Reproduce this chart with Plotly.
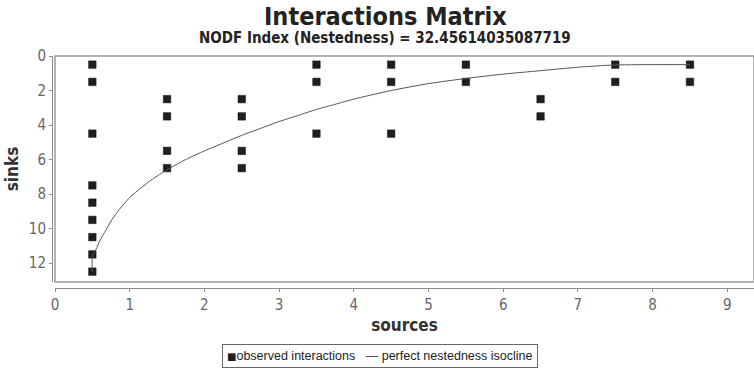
import plotly.graph_objects as go

# Observed interactions: (source column, sink row) cell centres
obs_sources = [0.5, 0.5, 0.5, 0.5, 0.5, 0.5, 0.5, 0.5, 0.5,
               1.5, 1.5, 1.5, 1.5,
               2.5, 2.5, 2.5, 2.5,
               3.5, 3.5, 3.5,
               4.5, 4.5, 4.5,
               5.5, 5.5,
               6.5, 6.5,
               7.5, 7.5,
               8.5, 8.5]
obs_sinks = [0.5, 1.5, 4.5, 7.5, 8.5, 9.5, 10.5, 11.5, 12.5,
             2.5, 3.5, 5.5, 6.5,
             2.5, 3.5, 5.5, 6.5,
             0.5, 1.5, 4.5,
             0.5, 1.5, 4.5,
             0.5, 1.5,
             2.5, 3.5,
             0.5, 1.5,
             0.5, 1.5]

# Perfect nestedness isocline
iso_sources = [0.5, 0.5, 0.55, 0.6, 0.68, 0.76, 0.86, 1.0, 1.15, 1.3, 1.5,
               1.75, 2.0, 2.25, 2.5, 2.75, 3.0, 3.25, 3.5, 3.75, 4.0, 4.5,
               5.0, 5.5, 6.0, 6.5, 7.0, 7.5, 8.5]
iso_sinks = [12.5, 11.6, 11.2, 10.7, 10.1, 9.5, 8.9, 8.2, 7.65, 7.15, 6.6,
             6.0, 5.5, 5.05, 4.6, 4.2, 3.8, 3.45, 3.1, 2.8, 2.5, 2.0,
             1.6, 1.3, 1.05, 0.85, 0.65, 0.52, 0.5]

x_ticks = list(range(0, 10))
y_ticks = [0, 2, 4, 6, 8, 10, 12]

title_text = "Interactions Matrix"
subtitle_text = "NODF Index (Nestedness) = 32.45614035087719"
series_names = ["observed interactions", "perfect nestedness isocline"]

COND = "DejaVu Sans Condensed, Liberation Sans Narrow, DejaVu Sans, sans-serif"
SANS = "Liberation Sans, Arial, sans-serif"
W, H = 754, 372
ml, mr, mt, mb = 52, 0, 56, 84
pw, ph = W - ml - mr, H - mt - mb
gap_x, gap_y = 3, 6
x0d = gap_x / pw
y0d = gap_y / ph

fig = go.Figure()
fig.add_trace(go.Scatter(
    x=obs_sources, y=obs_sinks, mode="markers", name=series_names[0],
    showlegend=False,
    marker=dict(symbol="square", size=7.5, color="#1f1f1f",
                line=dict(color="#111111", width=0.5)),
))
fig.add_trace(go.Scatter(
    x=iso_sources, y=iso_sinks, mode="lines", name=series_names[1],
    showlegend=False,
    line=dict(color="#555555", width=1, shape="spline", smoothing=0.6),
))

axis_common = dict(
    showgrid=False, zeroline=False, showline=True, linecolor="#8c8c8c",
    linewidth=1, ticks="outside", ticklen=3, tickcolor="#8c8c8c",
    tickfont=dict(family=COND, size=15, color="#666666"),
)

# Compact boxed legend drawn as a single bordered text item
legend_html = (
    "<span style='font-family:DejaVu Sans;font-size:10px;color:#1f1f1f'>■</span>"
    + series_names[0]
    + "   <span style='color:#555555'>—</span> "
    + series_names[1]
)

fig.update_layout(
    width=W, height=H,
    margin=dict(l=ml, r=mr, t=mt, b=mb),
    paper_bgcolor="white", plot_bgcolor="white",
    xaxis=dict(domain=[x0d, 1], range=[0, 9.357], tickvals=x_ticks,
               anchor="free", position=0,
               title=dict(text="sources", standoff=6,
                          font=dict(family=COND, size=17, color="#333333", weight="bold")),
               **axis_common),
    yaxis=dict(domain=[y0d, 1], range=[13.1, 0], tickvals=y_ticks,
               anchor="free", position=0,
               title=dict(text="sinks", standoff=4,
                          font=dict(family=COND, size=17, color="#333333", weight="bold")),
               **axis_common),
    showlegend=False,
    shapes=[dict(type="rect", xref="paper", yref="paper",
                 x0=x0d, x1=1, y0=y0d, y1=1,
                 line=dict(color="#9a9a9a", width=1.5), layer="above")],
    annotations=[
        dict(text=title_text, xref="paper", yref="paper", showarrow=False,
             x=(385 - ml) / pw, y=1 + (mt - 17) / ph, xanchor="center", yanchor="middle",
             font=dict(family=COND, size=25, color="#222222", weight="bold")),
        dict(text=subtitle_text, xref="paper", yref="paper", showarrow=False,
             x=(385 - ml) / pw, y=1 + (mt - 38) / ph, xanchor="center", yanchor="middle",
             font=dict(family=COND, size=15, color="#222222", weight="bold")),
        dict(text=legend_html, xref="paper", yref="paper", showarrow=False,
             x=(380 - ml) / pw, y=-(355.5 - (H - mb)) / ph, xanchor="center", yanchor="middle",
             font=dict(family=SANS, size=12.5, color="#222222"),
             bordercolor="#666666", borderwidth=1, borderpad=4, bgcolor="white"),
    ],
)

fig.write_html("out.html")
